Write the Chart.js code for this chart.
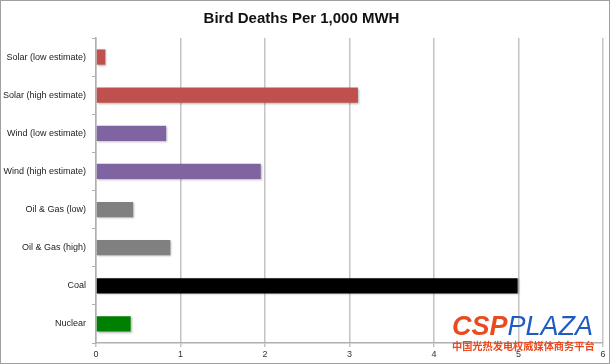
<!DOCTYPE html>
<html>
<head>
<meta charset="utf-8">
<script src="https://cdn.jsdelivr.net/npm/chart.js@4/dist/chart.umd.min.js"></script>
<style>
  html, body { margin: 0; padding: 0; background: #fff; }
  #wrap { position: relative; width: 610px; height: 364px; }
  #mark { position: absolute; left: 452px; top: 312px; width: 150px; font-family: "Liberation Sans", sans-serif; }
  #mark .logo { font-size: 27px; font-style: italic; line-height: 28px; letter-spacing: 0px; }
  #mark .csp { color: #ea4a1f; font-weight: bold; }
  #mark .plaza { color: #1f5cc2; }
  #mark .sub { color: #ea4a1f; font-family: "Noto Sans CJK SC", sans-serif; font-weight: bold; font-size: 10.2px; line-height: 12px; white-space: nowrap; }
</style>
</head>
<body>
<div id="wrap">
  <canvas id="bird-chart" width="610" height="364"></canvas>
  <div id="mark">
    <div class="logo"><span class="csp">CSP</span><span class="plaza">PLAZA</span></div>
    <div class="sub">中国光热发电权威媒体商务平台</div>
  </div>
</div>
<script>
  'use strict';

  // Categories, top to bottom.
  const sources = [
    'Solar (low estimate)',
    'Solar (high estimate)',
    'Wind (low estimate)',
    'Wind (high estimate)',
    'Oil & Gas (low)',
    'Oil & Gas (high)',
    'Coal',
    'Nuclear'
  ];

  // Bird deaths per 1,000 MWH.
  const deaths = [0.11, 3.10, 0.83, 1.95, 0.44, 0.88, 4.99, 0.41];

  const barColors = [
    '#c0504d', '#c0504d',
    '#8064a2', '#8064a2',
    '#808080', '#808080',
    '#000000',
    '#008000'
  ];

  const xTicks = [0, 1, 2, 3, 4, 5, 6];

  /**
   * Soft drop shadow under the bars, plus the outer frame.
   */
  const decorPlugin = {
    id: 'decor',
    beforeDatasetsDraw: function (chart) {
      const ctx = chart.ctx;
      ctx.save();
      ctx.shadowColor = 'rgba(0, 0, 0, 0.28)';
      ctx.shadowBlur = 2;
      ctx.shadowOffsetX = 1;
      ctx.shadowOffsetY = 1;
    },
    afterDatasetsDraw: function (chart) {
      chart.ctx.restore();
    },
    afterDraw: function (chart) {
      const ctx = chart.ctx;
      ctx.save();
      ctx.strokeStyle = '#a0a0a0';
      ctx.lineWidth = 1;
      ctx.strokeRect(0.5, 0.5, chart.width - 1, chart.height - 1);
      ctx.restore();
    }
  };

  function renderChart(canvasId) {
    const ctx = document.getElementById(canvasId).getContext('2d');
    return new Chart(ctx, {
      type: 'bar',
      data: {
        labels: sources,
        datasets: [{
          data: deaths,
          backgroundColor: barColors,
          borderWidth: 0,
          barPercentage: 0.8,
          categoryPercentage: 0.5
        }]
      },
      options: {
        indexAxis: 'y',
        responsive: false,
        animation: false,
        layout: {
          padding: { left: 0, right: 7, top: 0, bottom: 0 }
        },
        plugins: {
          legend: { display: false },
          tooltip: { enabled: false },
          title: {
            display: true,
            text: 'Bird Deaths Per 1,000 MWH',
            color: '#111',
            font: { family: '"Liberation Sans", sans-serif', size: 15, weight: 'bold' },
            padding: { top: 10, bottom: 10 }
          }
        },
        scales: {
          x: {
            min: 0,
            max: 6,
            afterBuildTicks: function (scale) {
              scale.ticks = xTicks.map(function (v) { return { value: v }; });
            },
            afterFit: function (scale) { scale.height = 21; },
            grid: {
              color: '#c4c4c4',
              lineWidth: 1.5,
              drawTicks: true,
              tickLength: 4
            },
            border: { color: '#b0b0b0', width: 1.5 },
            ticks: {
              color: '#333',
              padding: 2,
              font: { family: '"Liberation Sans", sans-serif', size: 9 }
            }
          },
          y: {
            afterFit: function (scale) { scale.width = 96; },
            grid: {
              drawOnChartArea: false,
              drawTicks: true,
              tickLength: 4,
              color: '#b0b0b0'
            },
            border: { color: '#b0b0b0', width: 1.5 },
            ticks: {
              color: '#222',
              padding: 6,
              font: { family: '"Liberation Sans", sans-serif', size: 9 }
            }
          }
        }
      },
      plugins: [decorPlugin]
    });
  }

  renderChart('bird-chart');
</script>
</body>
</html>
